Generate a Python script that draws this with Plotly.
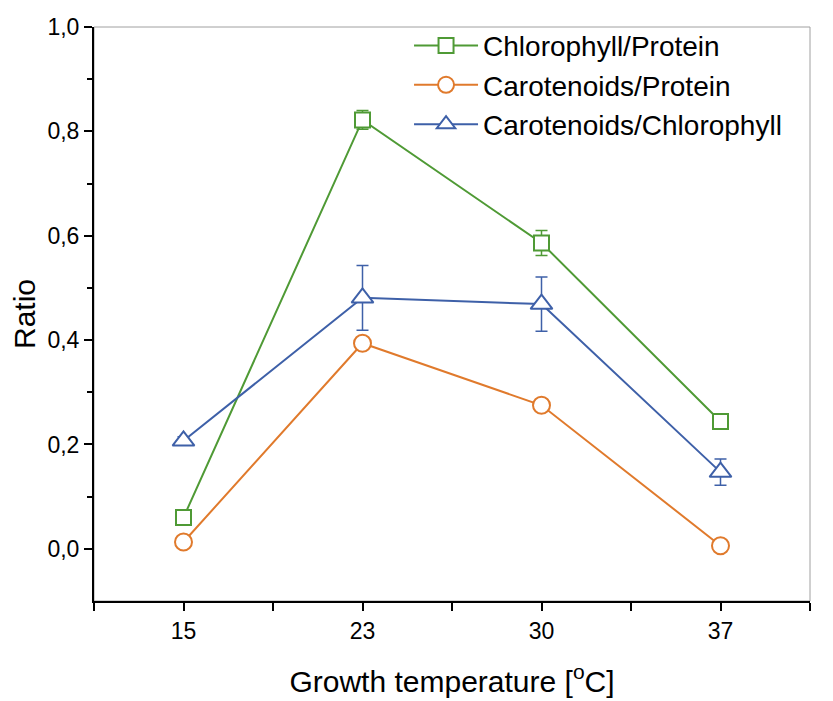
import plotly.graph_objects as go

temps = ["15", "23", "30", "37"]

chl_prot = [0.060, 0.822, 0.586, 0.244]
chl_prot_err = [0.010, 0.018, 0.024, 0.008]

car_prot = [0.013, 0.394, 0.275, 0.006]
car_prot_err = [0.008, 0.010, 0.010, 0.010]

car_chl = [0.207, 0.481, 0.469, 0.147]
car_chl_err = [0.008, 0.062, 0.052, 0.025]

GREEN = "#4f9a35"
ORANGE = "#e07a2c"
BLUE = "#3e60a8"

pos = list(range(len(temps)))

fig = go.Figure()

def add_series(y, err, name, color, symbol, size):
    fig.add_trace(go.Scatter(
        x=pos, y=y, name=name, mode="lines+markers",
        line=dict(color=color, width=2),
        marker=dict(symbol=symbol, size=size, color="white",
                    line=dict(color=color, width=2)),
        error_y=dict(type="data", array=err, color=color,
                     thickness=1.5, width=6),
    ))

add_series(chl_prot, chl_prot_err, "Chlorophyll/Protein", GREEN, "square", 15)
add_series(car_prot, car_prot_err, "Carotenoids/Protein", ORANGE, "circle", 17)
add_series(car_chl, car_chl_err, "Carotenoids/Chlorophyll", BLUE, "triangle-up", 19)

# grey frame on top/right like the original
fig.add_shape(type="rect", xref="paper", yref="paper", x0=0, y0=0, x1=1, y1=1,
              line=dict(color="#a0a0a0", width=1), layer="below")

fig.update_layout(
    width=833, height=701,
    margin=dict(l=86, r=31, t=19, b=108, autoexpand=False),
    paper_bgcolor="white", plot_bgcolor="white",
    separators=",.",
    font=dict(family="Liberation Sans, Arial, sans-serif", color="black"),
    showlegend=True,
    legend=dict(x=0.44, y=1.011, xanchor="left", yanchor="top",
                bgcolor="rgba(0,0,0,0)", font=dict(size=28),
                itemwidth=64, tracegroupgap=0),
)

fig.update_xaxes(
    range=[-0.5, len(temps) - 0.5],
    tickvals=pos, ticktext=temps,
    showgrid=False, zeroline=False, automargin=False,
    showline=True, linecolor="black", linewidth=2,
    ticks="outside", ticklen=8, tickwidth=2, tickcolor="black",
    minor=dict(tickvals=[p - 0.5 for p in pos] + [len(temps) - 0.5],
               ticks="outside", ticklen=8, tickwidth=2, tickcolor="black"),
    tickfont=dict(size=23),
    title=dict(text="Growth temperature [<sup>o</sup>C]", font=dict(size=30), standoff=28),
)

fig.update_yaxes(
    range=[-0.1, 1.0],
    tickvals=[0.0, 0.2, 0.4, 0.6, 0.8, 1.0], tickformat=".1f",
    showgrid=False, zeroline=False, automargin=False,
    showline=True, linecolor="black", linewidth=2,
    ticks="outside", ticklen=8, tickwidth=2, tickcolor="black",
    minor=dict(tickvals=[0.1, 0.3, 0.5, 0.7, 0.9],
               ticks="outside", ticklen=5, tickwidth=2, tickcolor="black"),
    tickfont=dict(size=23),
    title=dict(text="Ratio", font=dict(size=30), standoff=12),
)

fig.write_html("out.html")
